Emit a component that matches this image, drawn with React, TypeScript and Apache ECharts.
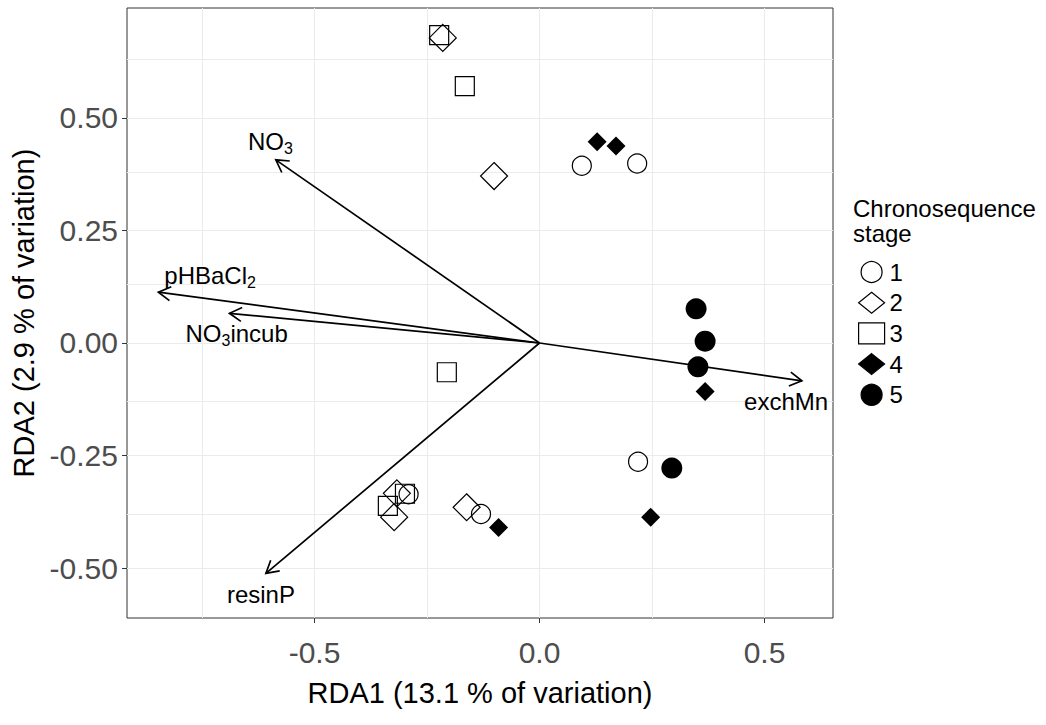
import React, { useEffect, useRef } from "react";
import * as echarts from "echarts";

// ---- data ----
const stageNames = ["1", "2", "3", "4", "5"];
const stage1X = [0.094, 0.217, 0.219, -0.291, -0.13];
const stage1Y = [0.394, 0.399, -0.264, -0.336, -0.38];
const stage2X = [-0.215, -0.101, -0.317, -0.323, -0.162];
const stage2Y = [0.678, 0.371, -0.334, -0.387, -0.365];
const stage3X = [-0.223, -0.166, -0.206, -0.299, -0.337];
const stage3Y = [0.684, 0.571, -0.065, -0.335, -0.362];
const stage4X = [0.128, 0.17, 0.368, 0.247, -0.091];
const stage4Y = [0.447, 0.438, -0.108, -0.387, -0.41];
const stage5X = [0.348, 0.368, 0.352, 0.294];
const stage5Y = [0.076, 0.004, -0.053, -0.278];

const vectorNames = ["NO{sub|3}", "pHBaCl{sub|2}", "NO{sub|3}incub", "resinP", "exchMn"];
const vectorX = [-0.586, -0.847, -0.689, -0.608, 0.583];
const vectorY = [0.407, 0.113, 0.066, -0.512, -0.084];
const vectorLabelX = [-0.598, -0.732, -0.673, -0.619, 0.548];
const vectorLabelY = [0.447, 0.151, 0.021, -0.559, -0.129];

const xTicks = [-0.5, 0, 0.5];
const yTicks = [-0.5, -0.25, 0, 0.25, 0.5];
const xMinor = [-0.75, -0.25, 0.25];
const yMinor = [-0.375, -0.125, 0.125, 0.375, 0.625];

const FONT = "'Liberation Sans', Arial, Helvetica, sans-serif";

const zip = (xs: number[], ys: number[]) => xs.map((x, i) => [x, ys[i]]);

export default function App() {
  const ref = useRef<HTMLDivElement>(null);
  useEffect(() => {
    if (!ref.current) return;
    const chart = echarts.init(ref.current, undefined, { renderer: "svg" });

    const hollow = { color: "rgba(0,0,0,0)", borderColor: "#000", borderWidth: 1.2, opacity: 1 };
    const solid = { color: "#000", borderColor: "#000", borderWidth: 0, opacity: 1 };

    const gridLines = [
      ...xTicks.map((v) => ({ xAxis: v })),
      ...xMinor.map((v) => ({ xAxis: v })),
      ...yTicks.map((v) => ({ yAxis: v })),
      ...yMinor.map((v) => ({ yAxis: v })),
    ];

    const arrowData = vectorNames.map((n, i) => [vectorX[i], vectorY[i], vectorLabelX[i], vectorLabelY[i]]);

    const option: any = {
      animation: false,
      textStyle: { fontFamily: FONT },
      title: {
        text: "Chronosequence\nstage",
        left: 853,
        top: 196,
        padding: 0,
        textStyle: { fontFamily: FONT, fontSize: 24, lineHeight: 25, fontWeight: "normal", color: "#000" },
      },
      legend: {
        data: stageNames,
        orient: "vertical",
        left: 858,
        top: 260,
        padding: 0,
        itemWidth: 26,
        itemHeight: 21,
        itemGap: 6.7,
        selectedMode: false,
        itemStyle: { borderWidth: 1.2, opacity: 1 },
        textStyle: { fontFamily: FONT, fontSize: 24, lineHeight: 24, color: "#000" },
      },
      grid: {
        left: 127,
        top: 8,
        width: 706,
        height: 610,
        show: true,
        borderColor: "#333",
        borderWidth: 1,
        backgroundColor: "transparent",
      },
      xAxis: {
        type: "value",
        position: "bottom",
        min: -0.9167,
        max: 0.6522,
        name: "RDA1 (13.1 % of variation)",
        nameLocation: "middle",
        nameGap: 60,
        nameTextStyle: { fontFamily: FONT, fontSize: 29, color: "#000" },
        axisLine: { show: false, onZero: false },
        axisTick: { show: true, customValues: xTicks, length: 5, lineStyle: { color: "#333", width: 1 } },
        axisLabel: {
          customValues: xTicks,
          formatter: (v: number) => v.toFixed(1),
          fontSize: 30,
          color: "#4d4d4d",
          margin: 19,
          fontFamily: FONT,
        },
        splitLine: { show: false },
      },
      yAxis: {
        type: "value",
        position: "left",
        min: -0.6111,
        max: 0.7444,
        name: "RDA2 (2.9 % of variation)",
        nameLocation: "middle",
        nameRotate: 90,
        nameGap: 86,
        nameTextStyle: { fontFamily: FONT, fontSize: 29, color: "#000" },
        axisLine: { show: false, onZero: false },
        axisTick: { show: true, customValues: yTicks, length: 5, lineStyle: { color: "#333", width: 1 } },
        axisLabel: {
          customValues: yTicks,
          formatter: (v: number) => v.toFixed(2),
          fontSize: 30,
          color: "#4d4d4d",
          margin: 9,
          fontFamily: FONT,
        },
        splitLine: { show: false },
      },
      series: [
        {
          name: "grid",
          type: "scatter",
          data: [],
          silent: true,
          z: 0,
          markLine: {
            z: 0,
            silent: true,
            animation: false,
            symbol: ["none", "none"],
            label: { show: false },
            lineStyle: { color: "#ebebeb", width: 1, type: "solid" },
            emphasis: { disabled: true },
            data: gridLines,
          },
        },
        {
          name: "vectors",
          type: "custom",
          silent: true,
          z: 3,
          data: arrowData,
          renderItem: (params: any, api: any) => {
            const x = api.value(0);
            const y = api.value(1);
            const lx = api.value(2);
            const ly = api.value(3);
            const o = api.coord([0, 0]);
            const t = api.coord([x, y]);
            const l = api.coord([lx, ly]);
            const dx = o[0] - t[0];
            const dy = o[1] - t[1];
            const len = Math.hypot(dx, dy) || 1;
            const ux = dx / len;
            const uy = dy / len;
            const hl = 14;
            const a = (30 * Math.PI) / 180;
            const c = Math.cos(a);
            const s = Math.sin(a);
            const b1 = [t[0] + hl * (ux * c - uy * s), t[1] + hl * (ux * s + uy * c)];
            const b2 = [t[0] + hl * (ux * c + uy * s), t[1] + hl * (-ux * s + uy * c)];
            return {
              type: "group",
              children: [
                {
                  type: "line",
                  shape: { x1: o[0], y1: o[1], x2: t[0], y2: t[1] },
                  style: { stroke: "#000", lineWidth: 1.7, fill: null },
                },
                {
                  type: "polyline",
                  shape: { points: [b1, t, b2] },
                  style: { stroke: "#000", lineWidth: 1.7, fill: null },
                },
                {
                  type: "text",
                  x: l[0],
                  y: l[1],
                  style: {
                    text: vectorNames[params.dataIndex],
                    fontFamily: FONT,
                    fontSize: 24,
                    lineHeight: 30,
                    fill: "#000",
                    align: "center",
                    verticalAlign: "middle",
                    rich: {
                      sub: { fontFamily: FONT, fontSize: 16, verticalAlign: "bottom", fill: "#000" },
                    },
                  },
                },
              ],
            };
          },
        },
        {
          name: "1",
          type: "scatter",
          symbol: "circle",
          symbolSize: 19,
          itemStyle: hollow,
          z: 4,
          silent: true,
          data: zip(stage1X, stage1Y),
        },
        {
          name: "2",
          type: "scatter",
          symbol: "diamond",
          symbolSize: 27,
          itemStyle: hollow,
          z: 4,
          silent: true,
          data: zip(stage2X, stage2Y),
        },
        {
          name: "3",
          type: "scatter",
          symbol: "rect",
          symbolSize: 19,
          itemStyle: hollow,
          z: 4,
          silent: true,
          data: zip(stage3X, stage3Y),
        },
        {
          name: "4",
          type: "scatter",
          symbol: "diamond",
          symbolSize: 19,
          itemStyle: solid,
          z: 4,
          silent: true,
          data: zip(stage4X, stage4Y),
        },
        {
          name: "5",
          type: "scatter",
          symbol: "circle",
          symbolSize: 21,
          itemStyle: solid,
          z: 4,
          silent: true,
          data: zip(stage5X, stage5Y),
        },
      ],
    };

    chart.setOption(option);
    return () => chart.dispose();
  }, []);

  return (
    <div
      ref={ref}
      style={{ position: "absolute", left: 0, top: 0, width: 1046, height: 725, background: "#fff" }}
    />
  );
}
